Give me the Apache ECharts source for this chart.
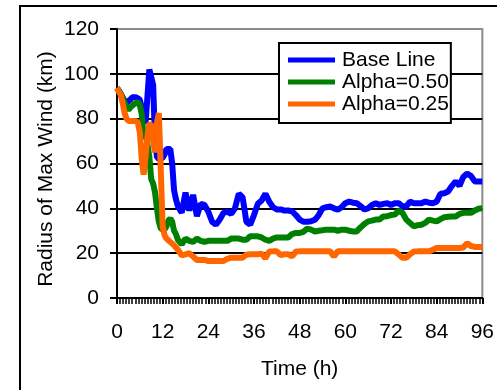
<!DOCTYPE html>
<html>
<head>
<meta charset="utf-8">
<script src="https://cdn.jsdelivr.net/npm/echarts@6/dist/echarts.min.js"></script>
<style>
  html, body { margin: 0; padding: 0; background: #fff; }
  #chart { width: 497px; height: 390px; }
</style>
</head>
<body>
<div id="chart"></div>
<script>
// Forecast hour of each sample (half-hourly to 16 h, then hourly)
var hours = [
  0, 0.5, 1, 1.5, 2, 2.5, 3, 3.5, 4, 4.5, 5, 5.5, 6, 6.5, 7, 7.5, 8, 8.5,
  9, 9.5, 10, 10.5, 11, 11.5, 12, 12.5, 13, 13.5, 14, 14.5, 15, 15.5, 16,
  17, 18, 19, 20, 21, 22, 23, 24, 25, 26, 27, 28, 29, 30, 31, 32, 33, 34,
  35, 36, 37, 38, 39, 40, 41, 42, 43, 44, 45, 46, 47, 48, 49, 50, 51, 52,
  53, 54, 55, 56, 57, 58, 59, 60, 61, 62, 63, 64, 65, 66, 67, 68, 69, 70,
  71, 72, 73, 74, 75, 76, 77, 78, 79, 80, 81, 82, 83, 84, 85, 86, 87, 88,
  89, 90, 91, 92, 93, 94, 95, 96
];

// Radius of maximum wind (km)
var baseLine = [
  93.7, 92.5, 91, 89.5, 88, 87, 87, 88.5, 89.5, 90, 89.5, 89, 88.5, 85, 79, 78, 90, 102,
  102.5, 95, 70, 63, 62, 62, 62.5, 64, 66.5, 66.5, 66.5, 60, 48, 44, 41,
  38, 47, 39, 46, 36.5, 42, 41.5, 38.5, 34, 32.7, 35, 38, 38.5, 37.5, 40, 46.5, 45, 34,
  32.7, 37, 42, 43.5, 46.5, 43, 40.5, 39.5, 39.5, 39, 39, 38.7, 37, 35, 34, 34, 34.2, 34.9,
  37, 40, 40.5, 40.8, 40, 39.4, 40.5, 42.3, 43, 42.5, 42.3, 41, 39.5, 40, 41.5, 42.3, 41.5, 42,
  42.3, 41.5, 42.3, 42.3, 41, 40.8, 43, 42.3, 42.3, 42.3, 43, 42.5, 42.3, 43, 46.5, 46.7, 47.5, 50,
  52, 50, 54, 55.5, 54.5, 52, 52, 52
];

var alpha050 = [
  93.7, 92.5, 91, 89, 87, 85, 84, 85, 85.5, 86.5, 87, 87.5, 86, 82, 71, 74, 74, 63,
  53, 51, 47, 40, 34, 31, 30.5, 30.5, 32, 34.5, 35.5, 34, 30, 28.5, 26,
  24, 26.5, 25.5, 25, 26.5, 25.5, 25, 25.5, 25.5, 25.5, 25.5, 25.5, 25.5, 26.5, 26.5, 26.5, 26, 26,
  27.5, 27.5, 27.5, 27, 26, 25.5, 26.5, 27, 27, 27, 27, 28.5, 29, 29, 29.5, 31, 30.5, 29.7,
  30, 30.2, 30.5, 30.5, 30.5, 30, 30.5, 30.5, 30, 29.7, 29.7, 31.5, 33, 34.2, 34.5, 35, 35, 36.4,
  36.5, 37, 37.2, 39, 38, 35, 33.5, 32, 32.5, 32.7, 33.5, 35, 34.5, 34.2, 35.2, 36, 36.2, 36.4,
  36.4, 37.5, 38, 38, 38, 39, 39.8, 40
];

var alpha025 = [
  93.7, 92, 90.5, 87, 82.5, 80, 79, 79, 79, 79, 79, 78, 74, 62, 55, 63, 72, 78,
  77, 70, 65, 78, 82.5, 82.5, 32, 28, 26.5, 26, 25, 24.5, 23.5, 22.5, 21.5,
  19, 19.5, 20, 18.5, 17, 17, 17, 16.5, 16.5, 16.5, 16.5, 16.5, 17.5, 18, 18, 18, 18, 19.3,
  19.5, 19.5, 19.5, 19.8, 17.7, 20.7, 20.8, 20.8, 19.2, 19.5, 19.5, 18.5, 20.7, 20.8, 20.8, 20.8, 20.8, 20.8,
  20.8, 20.8, 20.8, 20.8, 18.5, 20.8, 20.8, 20.8, 20.8, 20.8, 20.8, 20.8, 20.8, 20.8, 20.8, 20.8, 20.8, 20.8,
  20.8, 20.8, 20.8, 19.5, 18, 18, 19.5, 20.7, 20.8, 20.8, 20.8, 20.8, 21.5, 22.3, 22.3, 22.3, 22.3, 22.3,
  22.3, 22.3, 22.5, 24.4, 23.2, 22.8, 22.8, 22.8
];

var seriesNames = ['Base Line', 'Alpha=0.50', 'Alpha=0.25'];
var seriesColors = ['#0000ff', '#008000', '#ff6600'];
var seriesValues = [baseLine, alpha050, alpha025];

function pairs(values) {
  return values.map(function (v, i) { return [hours[i], v]; });
}

var font = 'Liberation Sans, Arial, sans-serif';
var chart = echarts.init(document.getElementById('chart'), null, { renderer: 'canvas' });

chart.setOption({
  animation: false,
  backgroundColor: '#ffffff',
  textStyle: { fontFamily: font, color: '#000' },
  grid: {
    left: 117, right: 9, top: 29, bottom: 92,
    show: true, borderColor: '#8c8c8c', borderWidth: 2, backgroundColor: 'transparent'
  },
  legend: {
    left: 279, top: 43,
    orient: 'vertical',
    icon: 'rect',
    itemWidth: 47, itemHeight: 5,
    itemGap: 0,
    padding: [6, 2, 8, 9],
    borderColor: '#000', borderWidth: 2,
    backgroundColor: '#fff',
    textStyle: { fontFamily: font, fontSize: 21, color: '#000', lineHeight: 22, padding: [0, 0, 0, 2] },
    data: seriesNames
  },
  xAxis: {
    type: 'value', min: 0, max: 96, interval: 12,
    name: 'Time (h)', nameLocation: 'middle', nameGap: 61,
    nameTextStyle: { fontFamily: font, fontSize: 21, color: '#000' },
    axisLine: { show: true, onZero: false, lineStyle: { color: '#000', width: 2 } },
    axisTick: { show: true, inside: false, length: 6, lineStyle: { color: '#000', width: 2 } },
    minorTick: { show: true, splitNumber: 15, length: 6, lineStyle: { color: '#000', width: 1.5 } },
    axisLabel: { fontFamily: font, fontSize: 21, color: '#000', margin: 24 },
    splitLine: { show: false }
  },
  yAxis: {
    type: 'value', min: 0, max: 120, interval: 20,
    axisLine: { show: true, lineStyle: { color: '#000', width: 2 } },
    axisTick: { show: true, inside: false, length: 7, lineStyle: { color: '#000', width: 2 } },
    axisLabel: { fontFamily: font, fontSize: 21, color: '#000', margin: 18 },
    splitLine: { show: true, showMaxLine: false, lineStyle: { color: '#000', width: 2 } }
  },
  graphic: [
    {
      type: 'rect', z: 100, silent: true,
      shape: { x: 20, y: 6, width: 700, height: 700 },
      style: { fill: 'none', stroke: '#000', lineWidth: 2 }
    },
    {
      type: 'text', z: 100, silent: true,
      x: 46, y: 169, rotation: Math.PI / 2,
      style: {
        text: 'Radius of Max Wind (km)', fill: '#000',
        font: '21px ' + font, align: 'center', verticalAlign: 'middle'
      }
    }
  ],
  series: seriesNames.map(function (name, i) {
    return {
      name: name, type: 'line',
      data: pairs(seriesValues[i]),
      showSymbol: false, symbol: 'none',
      color: seriesColors[i],
      lineStyle: { color: seriesColors[i], width: 6, join: 'bevel' },
      z: 2 + i
    };
  })
});
</script>
</body>
</html>
